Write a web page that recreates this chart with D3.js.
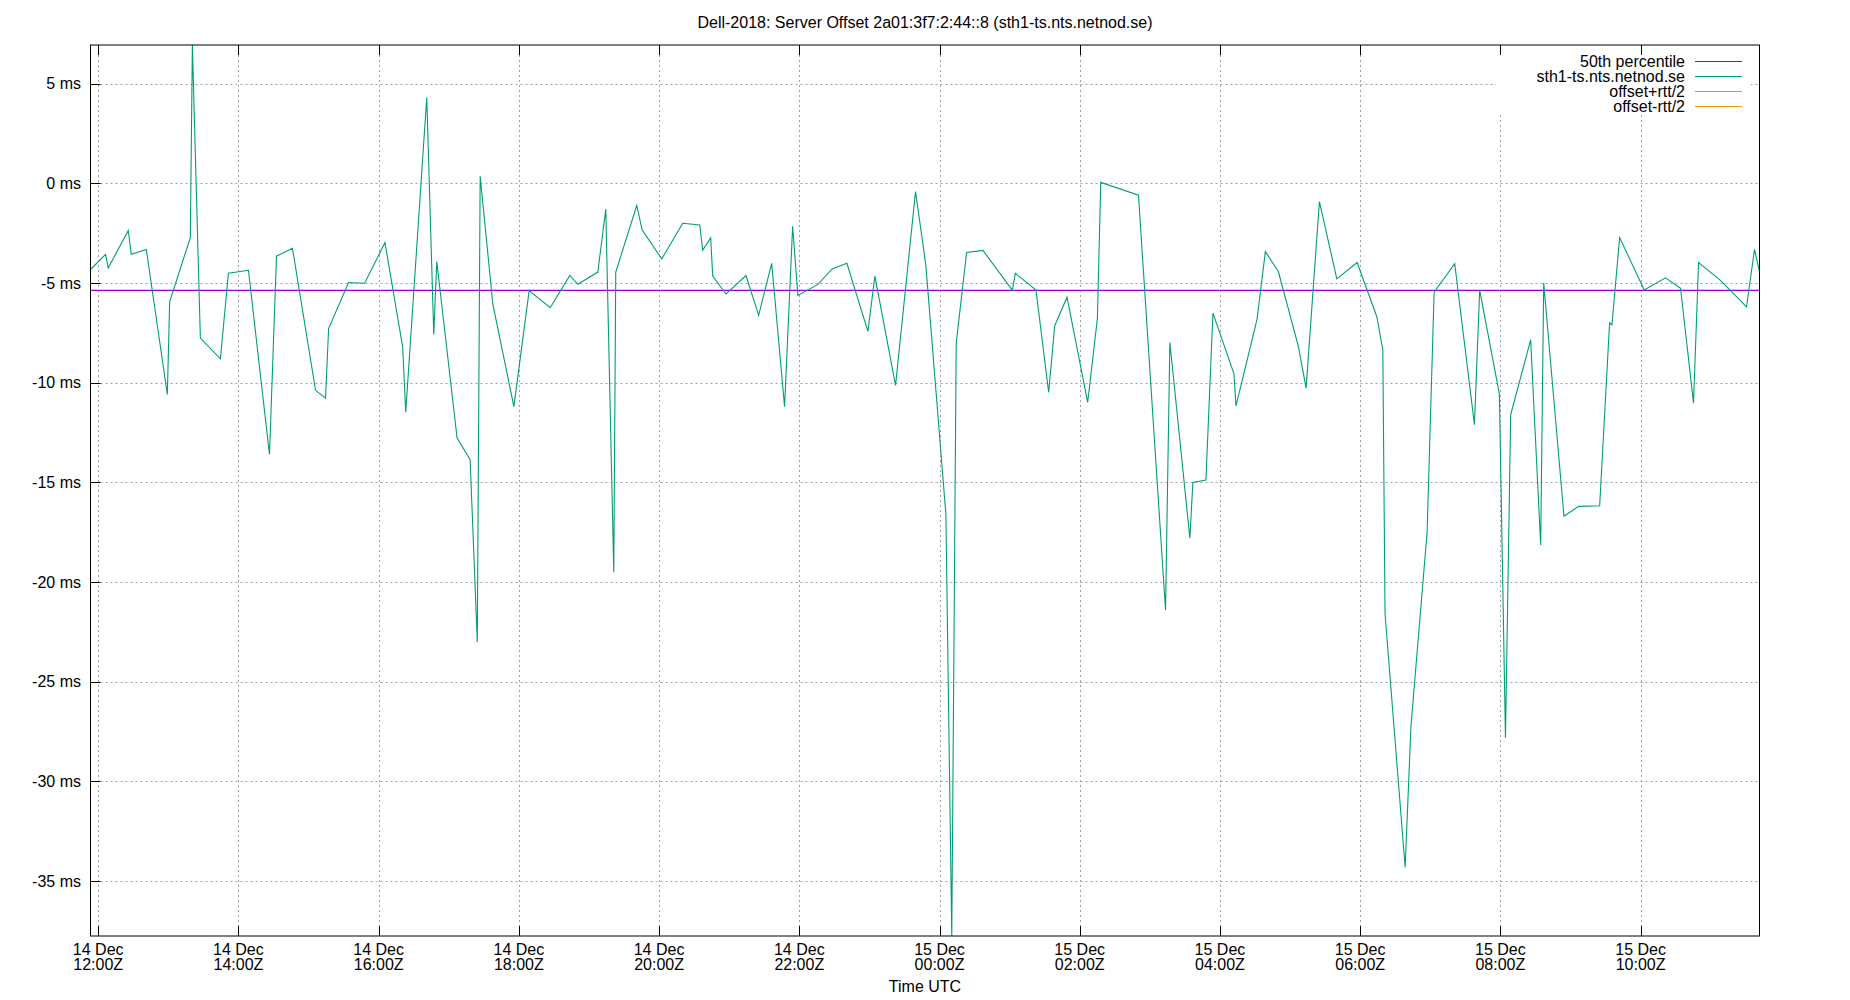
<!DOCTYPE html>
<html>
<head>
<meta charset="utf-8">
<script src="https://cdn.jsdelivr.net/npm/d3@7"></script>
<style>
  body { margin: 0; background: #fff; }
  text { font-family: "Liberation Sans", Arial, sans-serif; font-size: 16px; fill: #000; }
</style>
</head>
<body>
<svg id="chart" width="1850" height="1000"></svg>
<script>
var title = "Dell-2018: Server Offset 2a01:3f7:2:44::8 (sth1-ts.nts.netnod.se)";
var xTitle = "Time UTC";

// sample times (UTC) and offsets in ms
var times = [
  "2021-12-14T11:53:24Z","2021-12-14T12:06:18Z","2021-12-14T12:08:35Z","2021-12-14T12:25:44Z",
  "2021-12-14T12:28:16Z","2021-12-14T12:41:10Z","2021-12-14T12:59:10Z","2021-12-14T13:01:08Z",
  "2021-12-14T13:18:50Z","2021-12-14T13:20:35Z","2021-12-14T13:27:25Z","2021-12-14T13:44:35Z",
  "2021-12-14T13:51:25Z","2021-12-14T14:08:35Z","2021-12-14T14:26:35Z","2021-12-14T14:32:35Z",
  "2021-12-14T14:46:16Z","2021-12-14T15:06:00Z","2021-12-14T15:14:35Z","2021-12-14T15:17:10Z",
  "2021-12-14T15:34:16Z","2021-12-14T15:48:00Z","2021-12-14T16:05:24Z","2021-12-14T16:20:35Z",
  "2021-12-14T16:23:10Z","2021-12-14T16:41:10Z","2021-12-14T16:47:10Z","2021-12-14T16:49:44Z",
  "2021-12-14T17:07:08Z","2021-12-14T17:18:18Z","2021-12-14T17:24:25Z","2021-12-14T17:26:53Z",
  "2021-12-14T17:37:44Z","2021-12-14T17:55:44Z","2021-12-14T18:08:49Z","2021-12-14T18:26:49Z",
  "2021-12-14T18:43:37Z","2021-12-14T18:50:28Z","2021-12-14T19:07:34Z","2021-12-14T19:14:24Z",
  "2021-12-14T19:21:14Z","2021-12-14T19:22:55Z","2021-12-14T19:40:55Z","2021-12-14T19:45:29Z",
  "2021-12-14T20:02:17Z","2021-12-14T20:20:13Z","2021-12-14T20:34:48Z","2021-12-14T20:37:19Z",
  "2021-12-14T20:44:10Z","2021-12-14T20:45:54Z","2021-12-14T20:57:18Z","2021-12-14T21:14:24Z",
  "2021-12-14T21:25:12Z","2021-12-14T21:36:22Z","2021-12-14T21:47:24Z","2021-12-14T21:54:18Z",
  "2021-12-14T21:58:48Z","2021-12-14T22:15:40Z","2021-12-14T22:28:12Z","2021-12-14T22:40:44Z",
  "2021-12-14T22:58:44Z","2021-12-14T23:04:41Z","2021-12-14T23:22:23Z","2021-12-14T23:39:29Z",
  "2021-12-14T23:48:18Z","2021-12-15T00:05:28Z","2021-12-15T00:10:30Z","2021-12-15T00:14:17Z",
  "2021-12-15T00:23:10Z","2021-12-15T00:37:08Z","2021-12-15T01:02:17Z","2021-12-15T01:04:52Z",
  "2021-12-15T01:22:34Z","2021-12-15T01:33:25Z","2021-12-15T01:38:35Z","2021-12-15T01:49:08Z",
  "2021-12-15T02:06:50Z","2021-12-15T02:15:07Z","2021-12-15T02:18:00Z","2021-12-15T02:50:17Z",
  "2021-12-15T03:13:26Z","2021-12-15T03:17:10Z","2021-12-15T03:34:16Z","2021-12-15T03:36:50Z",
  "2021-12-15T03:48:00Z","2021-12-15T03:54:00Z","2021-12-15T04:12:00Z","2021-12-15T04:13:44Z",
  "2021-12-15T04:31:44Z","2021-12-15T04:38:53Z","2021-12-15T04:49:59Z","2021-12-15T05:07:08Z",
  "2021-12-15T05:13:44Z","2021-12-15T05:25:08Z","2021-12-15T05:40:01Z","2021-12-15T05:57:25Z",
  "2021-12-15T06:14:17Z","2021-12-15T06:19:23Z","2021-12-15T06:21:18Z","2021-12-15T06:38:30Z",
  "2021-12-15T06:43:30Z","2021-12-15T06:57:18Z","2021-12-15T07:03:18Z","2021-12-15T07:20:56Z",
  "2021-12-15T07:37:48Z","2021-12-15T07:42:18Z","2021-12-15T07:59:10Z","2021-12-15T08:04:22Z",
  "2021-12-15T08:08:49Z","2021-12-15T08:25:55Z","2021-12-15T08:34:30Z","2021-12-15T08:37:05Z",
  "2021-12-15T08:54:25Z","2021-12-15T09:06:58Z","2021-12-15T09:24:58Z","2021-12-15T09:33:29Z",
  "2021-12-15T09:35:28Z","2021-12-15T09:42:04Z","2021-12-15T10:03:07Z","2021-12-15T10:21:22Z",
  "2021-12-15T10:34:12Z","2021-12-15T10:45:18Z","2021-12-15T10:49:37Z","2021-12-15T11:08:06Z",
  "2021-12-15T11:30:40Z","2021-12-15T11:37:30Z","2021-12-15T11:41:46Z"
];
var offsets = [
  -4.32, -3.56, -4.24, -2.36, -3.56, -3.31, -10.59, -5.94,
  -2.72, 6.94, -7.76, -8.80, -4.51, -4.36, -13.6, -3.65,
  -3.26, -10.38, -10.77, -7.28, -4.97, -5.01, -2.97, -8.21,
  -11.48, 4.31, -7.58, -3.92, -12.77, -13.86, -23.0, 0.36,
  -6.06, -11.2, -5.38, -6.24, -4.62, -5.06, -4.45, -1.29,
  -19.5, -4.45, -1.11, -2.33, -3.79, -2.0, -2.09, -3.35,
  -2.74, -4.65, -5.55, -4.62, -6.62, -4.01, -11.2, -2.15,
  -5.62, -5.08, -4.29, -4.01, -7.42, -4.65, -10.13, -0.41,
  -4.1, -16.6, -37.75, -8.03, -3.47, -3.36, -5.35, -4.51,
  -5.35, -10.48, -7.14, -5.71, -10.98, -6.78, 0.05, -0.59,
  -21.4, -7.98, -17.8, -15.0, -14.88, -6.51, -9.55, -11.16,
  -6.82, -3.42, -4.42, -8.18, -10.27, -0.91, -4.79, -3.97,
  -6.69, -8.35, -21.6, -34.3, -27.2, -17.5, -5.46, -4.03,
  -12.1, -5.35, -10.57, -27.8, -11.6, -7.85, -18.14, -4.99,
  -16.7, -16.2, -16.17, -6.99, -7.1, -2.72, -5.35, -4.74,
  -5.26, -11.02, -3.97, -4.85, -6.19, -3.31, -4.45
];
var median = -5.37;

var yTicks = [5, 0, -5, -10, -15, -20, -25, -30, -35];
var legendNames = ["50th percentile", "sth1-ts.nts.netnod.se", "offset+rtt/2", "offset-rtt/2"];
var legendColors = ["#9400d3", "#009e73", "#56b4e9", "#e69f00"];

var plotLeft = 90.5, plotRight = 1759.5, plotTop = 45, plotBottom = 936;

var data = times.map(function(t, i) { return {t: d3.isoParse(t), v: offsets[i]}; });

var svg = d3.select("#chart");

var x = d3.scaleUtc()
  .domain(d3.extent(data, function(d) { return d.t; }))
  .range([plotLeft, plotRight])
  ;
var y = d3.scaleLinear()
  .domain(d3.extent(data, function(d) { return d.v; }))
  .range([plotBottom, plotTop])
  ;

var xTicks = x.ticks(d3.utcHour.every(2));

// grid
var grid = svg.append("g")
  .attr("stroke", "#a0a0a0")
  .attr("stroke-width", 1)
  .attr("stroke-dasharray", "2,3")
  ;
grid.selectAll("line.gy")
  .data(yTicks)
  .enter()
  .append("line")
  .attr("class", "gy")
  .attr("x1", plotLeft)
  .attr("x2", plotRight)
  .attr("y1", function(d) { return Math.round(y(d)) + 0.5; })
  .attr("y2", function(d) { return Math.round(y(d)) + 0.5; })
  ;
grid.selectAll("line.gx")
  .data(xTicks)
  .enter()
  .append("line")
  .attr("class", "gx")
  .attr("x1", function(d) { return Math.round(x(d)) + 0.5; })
  .attr("x2", function(d) { return Math.round(x(d)) + 0.5; })
  .attr("y1", plotTop)
  .attr("y2", plotBottom)
  ;

// white key box over the grid
svg.append("rect")
  .attr("x", 1496)
  .attr("y", plotTop + 1)
  .attr("width", 255)
  .attr("height", 68)
  .attr("fill", "#fff")
  ;

svg.append("clipPath")
  .attr("id", "plotclip")
  .append("rect")
  .attr("x", plotLeft)
  .attr("y", plotTop)
  .attr("width", plotRight - plotLeft)
  .attr("height", plotBottom - plotTop)
  ;

var plot = svg.append("g").attr("clip-path", "url(#plotclip)");

plot.append("line")
  .attr("x1", plotLeft)
  .attr("x2", plotRight)
  .attr("y1", y(median))
  .attr("y2", y(median))
  .attr("stroke", legendColors[0])
  .attr("stroke-width", 1.2)
  ;

var line = d3.line()
  .x(function(d) { return x(d.t); })
  .y(function(d) { return y(d.v); })
  ;

plot.append("path")
  .datum(data)
  .attr("d", line)
  .attr("fill", "none")
  .attr("stroke", legendColors[1])
  .attr("stroke-width", 1.1)
  ;

// border
svg.append("rect")
  .attr("x", plotLeft)
  .attr("y", plotTop)
  .attr("width", plotRight - plotLeft)
  .attr("height", plotBottom - plotTop)
  .attr("fill", "none")
  .attr("stroke", "#000")
  .attr("stroke-width", 1)
  ;

// ticks, pointing inwards
var ticks = svg.append("g").attr("stroke", "#000").attr("stroke-width", 1);
ticks.selectAll("line.ty")
  .data(yTicks)
  .enter()
  .append("line")
  .attr("class", "ty")
  .attr("x1", plotLeft)
  .attr("x2", plotLeft + 10)
  .attr("y1", function(d) { return Math.round(y(d)) + 0.5; })
  .attr("y2", function(d) { return Math.round(y(d)) + 0.5; })
  ;
ticks.selectAll("line.tb")
  .data(xTicks)
  .enter()
  .append("line")
  .attr("class", "tb")
  .attr("x1", function(d) { return Math.round(x(d)) + 0.5; })
  .attr("x2", function(d) { return Math.round(x(d)) + 0.5; })
  .attr("y1", plotBottom)
  .attr("y2", plotBottom - 10)
  ;
ticks.selectAll("line.tt")
  .data(xTicks)
  .enter()
  .append("line")
  .attr("class", "tt")
  .attr("x1", function(d) { return Math.round(x(d)) + 0.5; })
  .attr("x2", function(d) { return Math.round(x(d)) + 0.5; })
  .attr("y1", plotTop)
  .attr("y2", plotTop + 10)
  ;

// tick labels
svg.selectAll("text.ylab")
  .data(yTicks)
  .enter()
  .append("text")
  .attr("class", "ylab")
  .attr("x", 81)
  .attr("y", function(d) { return y(d) + 5.5; })
  .attr("text-anchor", "end")
  .text(function(d) { return d + " ms"; })
  ;

var fmtDay = d3.utcFormat("%d %b");
var fmtHour = d3.utcFormat("%H:%MZ");

var xlab = svg.selectAll("text.xlab")
  .data(xTicks)
  .enter()
  .append("text")
  .attr("class", "xlab")
  .attr("text-anchor", "middle")
  ;
xlab.append("tspan")
  .attr("x", function(d) { return x(d); })
  .attr("y", 955)
  .text(fmtDay)
  ;
xlab.append("tspan")
  .attr("x", function(d) { return x(d); })
  .attr("y", 969.5)
  .text(fmtHour)
  ;

svg.append("text")
  .attr("x", (plotLeft + plotRight) / 2)
  .attr("y", 991.5)
  .attr("text-anchor", "middle")
  .text(xTitle)
  ;

svg.append("text")
  .attr("x", (plotLeft + plotRight) / 2)
  .attr("y", 28)
  .attr("text-anchor", "middle")
  .text(title)
  ;

// legend
var legend = svg.selectAll("g.legenditem")
  .data(legendNames)
  .enter()
  .append("g")
  .attr("class", "legenditem")
  .attr("transform", function(d, i) { return "translate(0," + (61.5 + i * 15) + ")"; })
  ;
legend.append("text")
  .attr("x", 1685)
  .attr("y", 5.5)
  .attr("text-anchor", "end")
  .text(function(d) { return d; })
  ;
legend.append("line")
  .attr("x1", 1695)
  .attr("x2", 1742)
  .attr("y1", 0)
  .attr("y2", 0)
  .attr("stroke", function(d, i) { return legendColors[i]; })
  .attr("stroke-width", 1.2)
  ;
</script>
</body>
</html>
